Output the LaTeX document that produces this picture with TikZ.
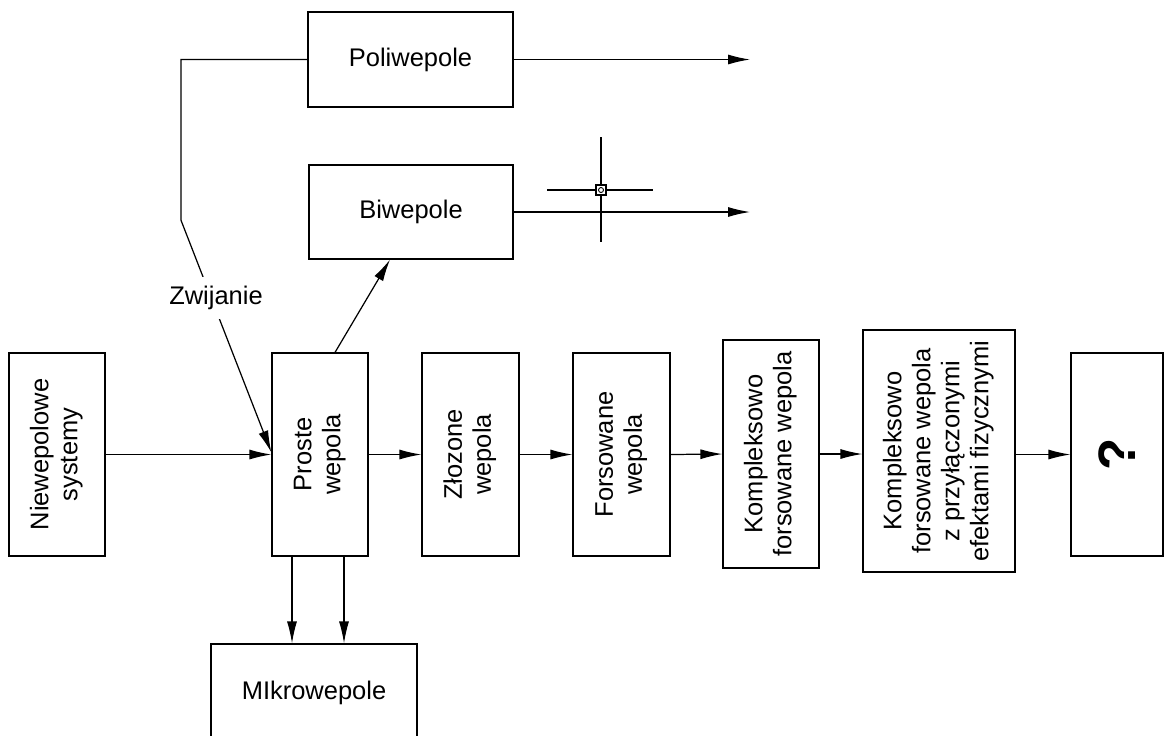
\documentclass[tikz,border=0pt]{standalone}
\usepackage{fontspec}
\setmainfont{Liberation Sans}
\usetikzlibrary{arrows.meta,calc}
\newcommand{\vtext}[1]{\rotatebox{90}{\begin{tabular}{@{}c@{}}#1\end{tabular}}}
\begin{document}
\begin{tikzpicture}[x=0.02cm,y=-0.02cm, line width=0.7pt,
  box/.style={draw, inner sep=0pt, font=\fontsize{14.5}{16.5}\selectfont, align=center},
  arr/.style={-{Latex[length=0.44cm,width=0.2cm]}},
  lbl/.style={font=\fontsize{14.5}{16.5}\selectfont, fill=white, inner xsep=1pt, inner ysep=5pt}]
\useasboundingbox (0,0) rectangle (1165,735);
\clip (0,0) rectangle (1165,735);
% boxes
\node[box, minimum width=4.1cm, minimum height=1.9cm] (poli) at (410.5,59.5) {Poliwepole};
\node[box, minimum width=4.08cm, minimum height=1.88cm] (bi) at (411,212) {Biwepole};
\node[box, minimum width=1.92cm, minimum height=4.06cm] (niew) at (57,454.5) {\vtext{Niewepolowe\\systemy}};
\node[box, minimum width=1.92cm, minimum height=4.06cm] (proste) at (320,454.5) {\vtext{Proste\\wepola}};
\node[box, minimum width=1.94cm, minimum height=4.06cm] (zloz) at (470.5,454.5) {\vtext{Złozone\\wepola}};
\node[box, minimum width=1.94cm, minimum height=4.06cm] (fors) at (621.5,454.5) {\vtext{Forsowane\\wepola}};
\node[box, minimum width=1.92cm, minimum height=4.56cm] (komp1) at (771,454) {\vtext{Kompleksowo\\forsowane wepola}};
\node[box, minimum width=3.04cm, minimum height=4.84cm] (komp2) at (939,451) {\vtext{Kompleksowo\\forsowane wepola\\z przyłączonymi\\efektami fizycznymi}};
\node[box, minimum width=1.84cm, minimum height=4.06cm] (q) at (1117,454.5) {\rotatebox{90}{\fontsize{30}{30}\selectfont\bfseries ?}};
\node[box, minimum width=4.12cm, minimum height=1.96cm] (mikro) at (314,693) {MIkrowepole};
% free ends
\coordinate (pe) at (750,59.5);
\coordinate (be) at (750,212);
% main chain
\draw[arr] (niew.east) -- (proste.west);
\draw[arr] (proste.east) -- (zloz.west);
\draw[arr] (zloz.east) -- (fors.west);
\draw[arr] (fors.east) -- (komp1.west);
\draw[arr] (komp1.east) -- (komp2.west |- komp1.east);
\draw[arr] (komp2.east |- q.west) -- (q.west);
% outputs to the right
\draw[arr] (poli.east) -- (pe);
\draw[arr] (bi.east) -- (be);
% Biwepole
\draw[arr] ($(proste.north)+(15,0)$) -- ($(bi.south)+(-21,0)$);
% Mikrowepole
\coordinate (d1) at ($(proste.south)+(-28,0)$);
\coordinate (d2) at ($(proste.south)+(24,0)$);
\draw[arr] (d1) -- (d1 |- mikro.north);
\draw[arr] (d2) -- (d2 |- mikro.north);
% Zwijanie
\draw[arr] (poli.west) -- ++(-126.5,0) coordinate (zt) -- ++(0,160.5) coordinate (zb) -- ($(proste.west)+(0,-2)$);
\node[lbl] (zw) at (216,298) {Zwijanie};
% crosshair cursor
\begin{scope}[line width=0.8pt]
\draw (601,137) -- (601,242);
\draw (547,190) -- (653,190);
\draw[fill=white] (596,185) rectangle (606,195);
\draw[line width=0.5pt] (601,190) circle[radius=0.05cm];
\end{scope}
\end{tikzpicture}
\end{document}
